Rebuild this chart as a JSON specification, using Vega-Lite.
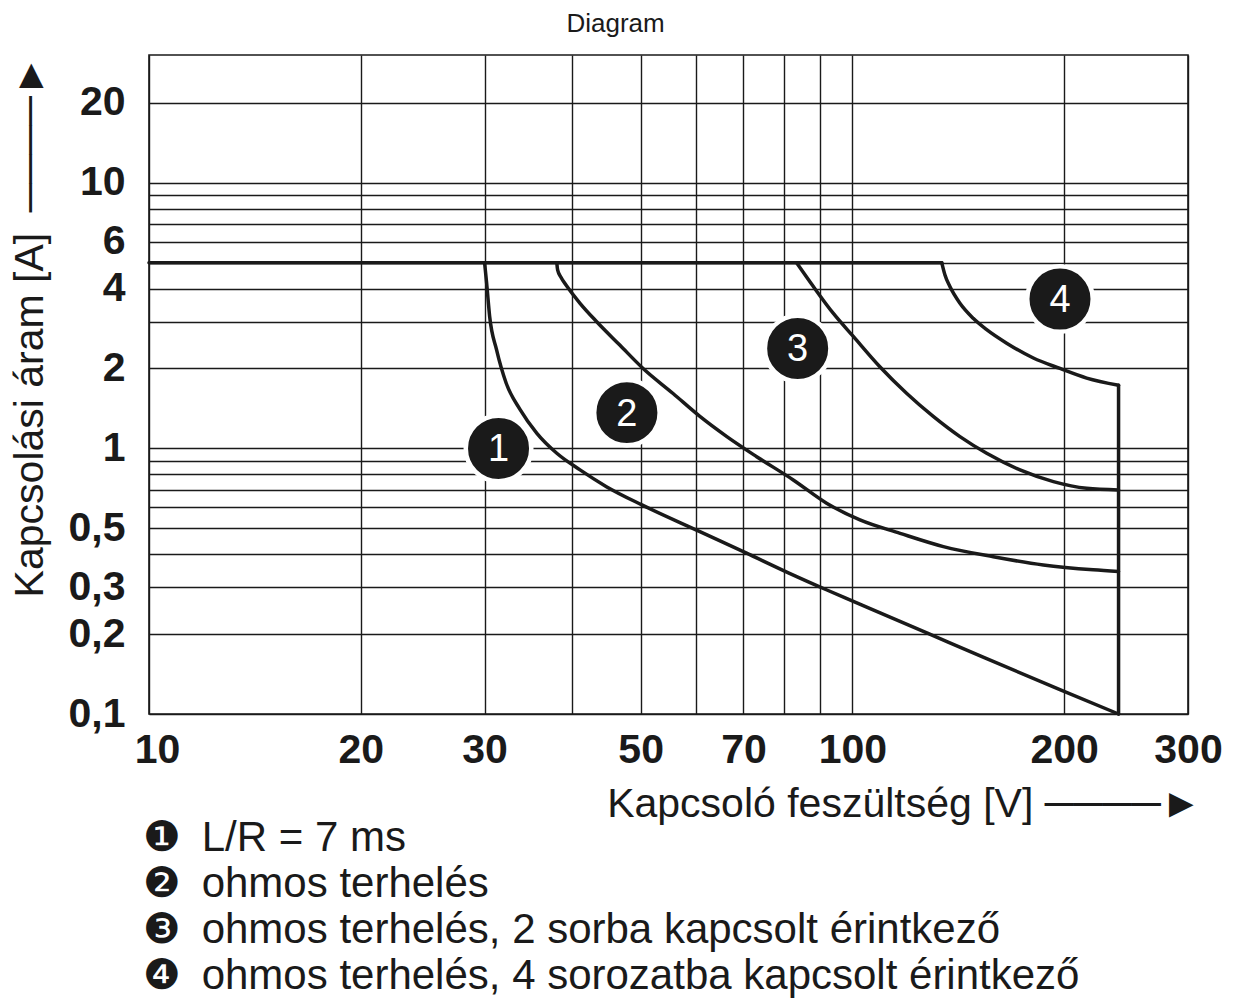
{
  "$schema": "https://vega.github.io/schema/vega-lite/v6.json",
  "width": 1039,
  "height": 659,
  "autosize": {"type": "none"},
  "padding": {"left": 149, "top": 55, "right": 45, "bottom": 284},
  "title": {
    "text": "Diagram",
    "font": "Liberation Sans",
    "fontSize": 26,
    "fontWeight": "normal",
    "color": "#1a1a1a",
    "anchor": "middle",
    "frame": "bounds",
    "offset": 18
  },
  "config": {
    "view": {"stroke": "#1a1a1a", "strokeWidth": 1.6},
    "font": "Liberation Sans"
  },
  "datasets": {
    "curves": [
      {"series": "0", "V": 10, "A": 5},
      {"series": "0", "V": 134, "A": 5},
      {"series": "1", "V": 30, "A": 5},
      {"series": "1", "V": 30.2, "A": 4.19},
      {"series": "1", "V": 30.5, "A": 3.14},
      {"series": "1", "V": 31.2, "A": 2.35},
      {"series": "1", "V": 32.2, "A": 1.76},
      {"series": "1", "V": 33.7, "A": 1.4},
      {"series": "1", "V": 35.6, "A": 1.14},
      {"series": "1", "V": 38, "A": 0.959},
      {"series": "1", "V": 41, "A": 0.83},
      {"series": "1", "V": 44.7, "A": 0.718},
      {"series": "1", "V": 50.2, "A": 0.613},
      {"series": "1", "V": 60.7, "A": 0.486},
      {"series": "1", "V": 70.6, "A": 0.404},
      {"series": "1", "V": 81.1, "A": 0.34},
      {"series": "1", "V": 92, "A": 0.293},
      {"series": "1", "V": 100.5, "A": 0.265},
      {"series": "1", "V": 127.6, "A": 0.202},
      {"series": "1", "V": 154, "A": 0.163},
      {"series": "1", "V": 198, "A": 0.123},
      {"series": "1", "V": 239, "A": 0.1},
      {"series": "2", "V": 38, "A": 5},
      {"series": "2", "V": 38.1, "A": 4.7},
      {"series": "2", "V": 38.5, "A": 4.42},
      {"series": "2", "V": 39.3, "A": 4.07},
      {"series": "2", "V": 41, "A": 3.52},
      {"series": "2", "V": 43.3, "A": 3.0},
      {"series": "2", "V": 46.7, "A": 2.45},
      {"series": "2", "V": 50.4, "A": 2.0},
      {"series": "2", "V": 55.6, "A": 1.61},
      {"series": "2", "V": 60.7, "A": 1.32},
      {"series": "2", "V": 66.3, "A": 1.108},
      {"series": "2", "V": 73.1, "A": 0.931},
      {"series": "2", "V": 82.4, "A": 0.761},
      {"series": "2", "V": 91.9, "A": 0.622},
      {"series": "2", "V": 102.5, "A": 0.538},
      {"series": "2", "V": 116.9, "A": 0.479},
      {"series": "2", "V": 134.7, "A": 0.427},
      {"series": "2", "V": 158.6, "A": 0.391},
      {"series": "2", "V": 186.8, "A": 0.364},
      {"series": "2", "V": 220, "A": 0.349},
      {"series": "2", "V": 239, "A": 0.344},
      {"series": "3", "V": 83.3, "A": 5},
      {"series": "3", "V": 88, "A": 4.07},
      {"series": "3", "V": 93.9, "A": 3.23},
      {"series": "3", "V": 100.3, "A": 2.64},
      {"series": "3", "V": 109.4, "A": 2.03},
      {"series": "3", "V": 119.5, "A": 1.61},
      {"series": "3", "V": 130.3, "A": 1.32},
      {"series": "3", "V": 142.2, "A": 1.108},
      {"series": "3", "V": 155.2, "A": 0.959},
      {"series": "3", "V": 173.1, "A": 0.83},
      {"series": "3", "V": 193.1, "A": 0.75},
      {"series": "3", "V": 215.3, "A": 0.708},
      {"series": "3", "V": 239, "A": 0.698},
      {"series": "4", "V": 134, "A": 5},
      {"series": "4", "V": 135.4, "A": 4.5},
      {"series": "4", "V": 137.6, "A": 4.07},
      {"series": "4", "V": 142.2, "A": 3.52},
      {"series": "4", "V": 148.5, "A": 3.09},
      {"series": "4", "V": 155.2, "A": 2.8},
      {"series": "4", "V": 165.7, "A": 2.49},
      {"series": "4", "V": 180.8, "A": 2.19},
      {"series": "4", "V": 197.3, "A": 2.0},
      {"series": "4", "V": 215.3, "A": 1.84},
      {"series": "4", "V": 239, "A": 1.73},
      {"series": "v", "V": 239, "A": 1.73},
      {"series": "v", "V": 239, "A": 0.1}
    ],
    "markers": [
      {"num": "1", "V": 31.4, "A": 1.0, "legend": "\u2776\u2002L/R = 7 ms"},
      {"num": "2", "V": 47.8, "A": 1.364, "legend": "\u2777\u2002ohmos terhelés"},
      {"num": "3", "V": 83.6, "A": 2.38, "legend": "\u2778\u2002ohmos terhelés, 2 sorba kapcsolt érintkező"},
      {"num": "4", "V": 197.3, "A": 3.65, "legend": "\u2779\u2002ohmos terhelés, 4 sorozatba kapcsolt érintkező"}
    ]
  },
  "layer": [
    {
      "data": {"name": "curves"},
      "mark": {
        "type": "line",
        "stroke": "#1a1a1a",
        "strokeWidth": 3.5,
        "interpolate": "monotone",
        "strokeCap": "round",
        "strokeJoin": "round"
      },
      "encoding": {
        "x": {
          "field": "V",
          "type": "quantitative",
          "scale": {"type": "log", "domain": [10, 300], "nice": false},
          "axis": {
            "values": [10, 20, 30, 40, 50, 60, 70, 80, 90, 100, 200, 300],
            "labelExpr": "indexof([40, 60, 80, 90], datum.value) >= 0 ? '' : format(datum.value, 'd')",
            "grid": true,
            "gridColor": "#1a1a1a",
            "gridWidth": 1.4,
            "gridOpacity": 1,
            "domain": false,
            "ticks": false,
            "labelFont": "Liberation Sans",
            "labelFontSize": 41,
            "labelFontWeight": "bold",
            "labelColor": "#1a1a1a",
            "labelPadding": 16,
            "labelOverlap": false,
            "labelFlush": false,
            "labelOffset": {"condition": {"test": "datum.value === 10", "value": 8}, "value": 0},
            "title": "Kapcsoló feszültség [V] ────►",
            "titleFont": "Liberation Sans, DejaVu Sans",
            "titleFontSize": 41,
            "titleFontWeight": "normal",
            "titleColor": "#1a1a1a",
            "titleAnchor": "end",
            "titleAlign": "right",
            "titleX": 1052,
            "titlePadding": 14
          }
        },
        "y": {
          "field": "A",
          "type": "quantitative",
          "scale": {"type": "log", "domain": [0.1, 30.3], "nice": false},
          "axis": {
            "values": [0.1, 0.2, 0.3, 0.4, 0.5, 0.6, 0.7, 0.8, 0.9, 1, 2, 3, 4, 5, 6, 7, 8, 9, 10, 20],
            "labelExpr": "indexof([0.1, 0.2, 0.3, 0.5, 1, 2, 4, 6, 10, 20], datum.value) >= 0 ? replace(format(datum.value, '~g'), '.', ',') : ''",
            "grid": true,
            "gridColor": "#1a1a1a",
            "gridWidth": 1.4,
            "gridOpacity": 1,
            "domain": false,
            "ticks": false,
            "labelFont": "Liberation Sans",
            "labelFontSize": 41,
            "labelFontWeight": "bold",
            "labelColor": "#1a1a1a",
            "labelPadding": 24,
            "labelOverlap": false,
            "labelBaseline": "middle",
            "title": "Kapcsolási áram [A]\u2002────►",
            "titleFont": "Liberation Sans, DejaVu Sans",
            "titleFontSize": 41,
            "titleFontWeight": "normal",
            "titleColor": "#1a1a1a",
            "titleAnchor": "end",
            "titlePadding": 17
          }
        },
        "detail": {"field": "series", "type": "nominal"}
      }
    },
    {
      "data": {"name": "markers"},
      "mark": {
        "type": "point",
        "shape": "circle",
        "filled": true,
        "size": 4290,
        "stroke": "white",
        "strokeWidth": 4.5,
        "opacity": 1
      },
      "encoding": {
        "x": {"field": "V", "type": "quantitative"},
        "y": {"field": "A", "type": "quantitative"},
        "color": {
          "field": "legend",
          "type": "nominal",
          "scale": {
            "domain": [
              "\u2776\u2002L/R = 7 ms",
              "\u2777\u2002ohmos terhelés",
              "\u2778\u2002ohmos terhelés, 2 sorba kapcsolt érintkező",
              "\u2779\u2002ohmos terhelés, 4 sorozatba kapcsolt érintkező"
            ],
            "range": ["#1a1a1a", "#1a1a1a", "#1a1a1a", "#1a1a1a"]
          },
          "legend": {
            "orient": "bottom",
            "direction": "vertical",
            "title": null,
            "symbolSize": 0,
            "symbolStrokeWidth": 0,
            "symbolOpacity": 0,
            "labelOffset": -48,
            "labelFont": "Liberation Sans, DejaVu Sans",
            "labelFontSize": 42,
            "labelColor": "#1a1a1a",
            "labelLimit": 1200,
            "rowPadding": 4,
            "padding": 0,
            "offset": -7
          }
        }
      }
    },
    {
      "data": {"name": "markers"},
      "mark": {
        "type": "text",
        "color": "white",
        "font": "Liberation Sans",
        "fontSize": 38,
        "baseline": "middle",
        "align": "center",
        "dy": 2
      },
      "encoding": {
        "x": {"field": "V", "type": "quantitative"},
        "y": {"field": "A", "type": "quantitative"},
        "text": {"field": "num", "type": "nominal"}
      }
    }
  ]
}
